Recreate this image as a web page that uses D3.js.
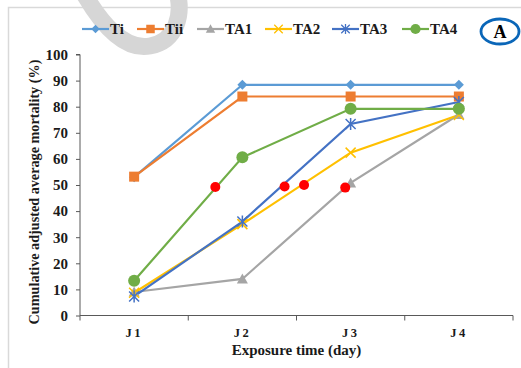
<!DOCTYPE html>
<html>
<head>
<meta charset="utf-8">
<script src="https://cdn.jsdelivr.net/npm/d3@7"></script>
<style>
  body { margin: 0; background: #fff; }
  svg { display: block; }
  svg text { font-family: "Liberation Serif", "Times New Roman", serif; }
</style>
</head>
<body>
<div id="chart"></div>
<script>
// categories and series
const days = ["J1", "J2", "J3", "J4"];
const ti  = [53, 88.4, 88.4, 88.4];
const tii = [53.2, 83.9, 83.9, 83.9];
const ta1 = [9, 14, 50.8, 77];
const ta2 = [8.7, 35, 62.4, 76.8];
const ta3 = [7.3, 36, 73.4, 81.8];
const ta4 = [13.3, 60.6, 79.2, 79.2];
// red LT50 dots: fractional day index and value
const dotPos = [0.75, 1.39, 1.57, 1.95];
const dotVal = [49.2, 49.4, 50, 49];
const yTicks = [0, 10, 20, 30, 40, 50, 60, 70, 80, 90, 100];

const series = [
    {name: "Ti",  values: ti,  color: "#5b9bd5", marker: "diamond"},
    {name: "Tii", values: tii, color: "#ed7d31", marker: "square"},
    {name: "TA1", values: ta1, color: "#a5a5a5", marker: "triangle"},
    {name: "TA2", values: ta2, color: "#ffc000", marker: "cross"},
    {name: "TA3", values: ta3, color: "#4472c4", marker: "star"},
    {name: "TA4", values: ta4, color: "#70ad47", marker: "circle"}
];

const W = 521, H = 368;
const FONT = "Liberation Serif";
const margin = {top: 54.5, right: 8, bottom: 52.5, left: 80};

const svg = d3.select("#chart").append("svg")
    .attr("width", W)
    .attr("height", H);

// outer frame
svg.append("rect")
    .attr("x", 8.5).attr("y", 7.5)
    .attr("width", W + 20).attr("height", H + 20)
    .attr("fill", "none")
    .attr("stroke", "#d9d9d9")
    .attr("stroke-width", 1.5);

// grey watermark arc
svg.append("path")
    .attr("d", "M83,-8 C100,22 124,51 150,46 C177,41 183,14 177,-8")
    .attr("fill", "none")
    .attr("stroke", "#d6d6d6")
    .attr("stroke-width", 17);

const x = d3.scaleBand()
    .domain(days)
    .range([margin.left, W - margin.right]);

const xAt = f => x(days[0]) + x.bandwidth() * (f + 0.5);

const y = d3.scaleLinear()
    .domain([0, 100])
    .range([H - margin.bottom, margin.top]);

// y axis
const yAxis = svg.append("g")
    .attr("transform", `translate(${margin.left},0)`)
    .call(d3.axisLeft(y).tickValues(yTicks).tickSize(4).tickPadding(8));
yAxis.attr("font-family", FONT);
yAxis.select(".domain").attr("stroke", "#595959").attr("d", `M-4,${y(100)}H0V${y(0)}`);
yAxis.selectAll(".tick line").attr("stroke", "#595959");
yAxis.selectAll("text")
    .attr("font-size", 15).attr("font-weight", "bold")
    .attr("fill", "#1a1a1a")
    .attr("font-family", FONT);

// x axis
const xg = svg.append("g")
    .attr("transform", `translate(0,${y(0)})`);
xg.append("line")
    .attr("x1", x.range()[0]).attr("x2", x.range()[1])
    .attr("stroke", "#595959");
xg.selectAll(".xt")
    .data(days.concat(["end"]))
    .enter().append("line")
    .attr("class", "xt")
    .attr("x1", (d, i) => x.range()[0] + i * x.bandwidth())
    .attr("x2", (d, i) => x.range()[0] + i * x.bandwidth())
    .attr("y1", 0).attr("y2", 5)
    .attr("stroke", "#595959");
xg.selectAll(".xl")
    .data(days)
    .enter().append("text")
    .attr("class", "xl")
    .attr("x", d => x(d) + x.bandwidth() / 2)
    .attr("y", 21)
    .attr("text-anchor", "middle")
    .attr("font-family", FONT)
    .attr("font-size", 12.5).attr("font-weight", "bold")
    .attr("letter-spacing", 2.5)
    .attr("fill", "#1a1a1a")
    .text(d => d);

// axis titles
svg.append("text")
    .attr("x", (x.range()[0] + x.range()[1]) / 2)
    .attr("y", 355)
    .attr("text-anchor", "middle")
    .attr("font-family", FONT)
    .attr("font-size", 15).attr("font-weight", "bold")
    .attr("fill", "#1a1a1a")
    .text("Exposure time (day)");

svg.append("text")
    .attr("transform", `translate(39,192) rotate(-90)`)
    .attr("text-anchor", "middle")
    .attr("font-family", FONT)
    .attr("font-size", 14.2).attr("font-weight", "bold")
    .attr("fill", "#1a1a1a")
    .text("Cumulative adjusted average mortality (%)");

// marker shapes
function drawMarker(g, type, color) {
    if (type === "diamond") {
        g.append("path").attr("d", "M0,-5L5,0L0,5L-5,0Z").attr("fill", color);
    } else if (type === "square") {
        g.append("rect").attr("x", -5).attr("y", -5).attr("width", 10).attr("height", 10).attr("fill", color);
    } else if (type === "triangle") {
        g.append("path").attr("d", "M0,-5.5L5.5,4.5L-5.5,4.5Z").attr("fill", color);
    } else if (type === "cross") {
        g.append("path").attr("d", "M-5,-5L5,5M-5,5L5,-5").attr("stroke", color).attr("stroke-width", 1.5);
    } else if (type === "star") {
        g.append("path").attr("d", "M-5,-5L5,5M-5,5L5,-5M0,-6V6").attr("stroke", color).attr("stroke-width", 1.5);
    } else {
        g.append("circle").attr("r", 6).attr("fill", color);
    }
}

const line = d3.line()
    .x((d, i) => x(days[i]) + x.bandwidth() / 2)
    .y(d => y(d));

// series lines
series.forEach(s => {
    svg.append("path")
        .datum(s.values)
        .attr("fill", "none")
        .attr("stroke", s.color)
        .attr("stroke-width", 2.2)
        .attr("d", line);
});
series.forEach(s => {
    s.values.forEach((v, i) => {
        const g = svg.append("g")
            .attr("transform", `translate(${x(days[i]) + x.bandwidth() / 2},${y(v)})`);
        drawMarker(g, s.marker, s.color);
    });
});

// red dots
svg.selectAll(".lt50")
    .data(dotPos)
    .enter().append("circle")
    .attr("class", "lt50")
    .attr("cx", d => xAt(d))
    .attr("cy", (d, i) => y(dotVal[i]))
    .attr("r", 5)
    .attr("fill", "#ff0000");

// legend
const legX = [82, 137, 197, 265, 332, 402];
series.forEach((s, i) => {
    const g = svg.append("g").attr("transform", `translate(${legX[i]},29)`);
    g.append("line").attr("x1", 0).attr("x2", 27).attr("stroke", s.color).attr("stroke-width", 2.2);
    const m = g.append("g").attr("transform", "translate(13.5,0) scale(0.85)");
    drawMarker(m, s.marker, s.color);
    g.append("text")
        .attr("x", 28).attr("y", 5)
        .attr("font-family", FONT)
        .attr("font-size", 15).attr("font-weight", "bold")
        .attr("fill", "#1a1a1a")
        .text(s.name);
});

// panel label
svg.append("ellipse")
    .attr("cx", 500).attr("cy", 31.5)
    .attr("rx", 19).attr("ry", 12.5)
    .attr("fill", "none")
    .attr("stroke", "#0a66b8")
    .attr("stroke-width", 2.8);
svg.append("text")
    .attr("x", 500).attr("y", 37.5)
    .attr("text-anchor", "middle")
    .attr("font-family", FONT)
    .attr("font-size", 18).attr("font-weight", "bold")
    .attr("fill", "#000")
    .text("A");
</script>
</body>
</html>
